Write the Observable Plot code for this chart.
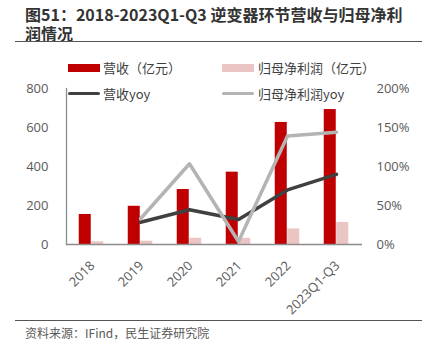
<!DOCTYPE html>
<html><head><meta charset="utf-8">
<script src="https://cdn.jsdelivr.net/npm/d3@7"></script>
<script src="https://cdn.jsdelivr.net/npm/@observablehq/plot@0.6"></script>
<style>
body{margin:0;background:#fff;font-family:"Noto Sans CJK SC","Noto Sans",sans-serif;}
#root{position:relative;width:428px;height:359px;overflow:hidden;}
.title{position:absolute;left:25px;font-size:16px;font-weight:bold;color:#333;line-height:16px;height:16px;white-space:nowrap;}
.hr{position:absolute;left:15px;width:407px;height:0;border-top:1.6px solid #555;}
.src{position:absolute;left:25px;top:324px;font-size:12px;color:#595959;}
.lg{position:absolute;font-size:13px;color:#404040;line-height:16px;white-space:nowrap;}
.sw{position:absolute;}
#chart{position:absolute;left:0;top:50px;}
</style></head>
<body><div id="root">
<div class="title" style="top:5.5px">图51：2018-2023Q1-Q3 逆变器环节营收与归母净利</div>
<div class="title" style="top:24.5px">润情况</div>
<div class="hr" style="top:41px"></div>
<div id="chart"></div>
<div class="hr" style="top:320px"></div>
<div class="src">资料来源：IFind，民生证券研究院</div>
<div class="sw" style="left:68px;top:64px;width:32px;height:8px;background:#C00000"></div>
<div class="lg" style="left:103px;top:60px">营收（亿元）</div>
<div class="sw" style="left:222px;top:64px;width:32px;height:8px;background:#EBC4C4"></div>
<div class="lg" style="left:258px;top:60px">归母净利润（亿元）</div>
<div class="sw" style="left:68px;top:92px;width:32px;height:3px;background:#404040;border-radius:1.5px"></div>
<div class="lg" style="left:103px;top:86px">营收yoy</div>
<div class="sw" style="left:222px;top:92px;width:32px;height:3px;background:#B4B4B4;border-radius:1.5px"></div>
<div class="lg" style="left:258px;top:86px">归母净利润yoy</div>
</div>
<script>
const categories = ["2018","2019","2020","2021","2022","2023Q1-Q3"];
const revenue = [154, 196, 282, 371, 626, 692];
const profit = [14, 17, 32, 32, 80, 113];
const revenueYoy = [null, 28.6, 44.5, 32, 70, 90];
const profitYoy = [null, 33, 103.5, 3.8, 139, 144];
const leftTicks = [0, 200, 400, 600, 800];
const rightTicks = [0, 50, 100, 150, 200];

const data = categories.map((c, i) => ({cat: c, rev: revenue[i], profit: profit[i], ryoy: revenueYoy[i], pyoy: profitYoy[i]}));
const k = 800 / 200; // right axis (%) to left axis scale factor
const txt = "#595959";
const tickFont = '"Open Sans","Noto Sans",sans-serif';
const chart = Plot.plot({
  width: 428, height: 268,
  marginTop: 38, marginBottom: 74, marginLeft: 66, marginRight: 66,
  style: {fontFamily: tickFont, fontSize: "13px", background: "transparent"},
  x: {domain: categories, paddingInner: 0.746, paddingOuter: 0.373, axis: null},
  y: {domain: [0, 800], axis: null},
  marks: [
    Plot.barY(data, {x: "cat", y: "rev", fill: "#C00000", dx: -6.25}),
    Plot.barY(data, {x: "cat", y: "profit", fill: "#EBC4C4", dx: 6.25}),
    Plot.ruleY([0], {stroke: "#8c8c8c", strokeWidth: 1.3}),
    Plot.frame({anchor: "left", stroke: "#8c8c8c", strokeWidth: 1.3}),
    Plot.lineY(data.filter(d => d.ryoy != null), {x: "cat", y: d => d.ryoy * k, stroke: "#404040", strokeWidth: 3.5}),
    Plot.lineY(data.filter(d => d.pyoy != null), {x: "cat", y: d => d.pyoy * k, stroke: "#B4B4B4", strokeWidth: 3.5}),
    Plot.axisY(leftTicks, {anchor: "left", tickSize: 0, tickPadding: 18, fill: txt, fontSize: 13, label: null}),
    Plot.axisY(rightTicks.map(t => t * k), {anchor: "right", tickSize: 0, tickPadding: 14, fill: txt, fontSize: 13, label: null, tickFormat: d => (d / k) + "%"}),
    Plot.axisX({anchor: "bottom", tickSize: 0, tickPadding: 19, dx: 1, tickRotate: -45, fill: txt, fontSize: 13, label: null})
  ]
});
document.getElementById("chart").appendChild(chart);
</script>
</body></html>
